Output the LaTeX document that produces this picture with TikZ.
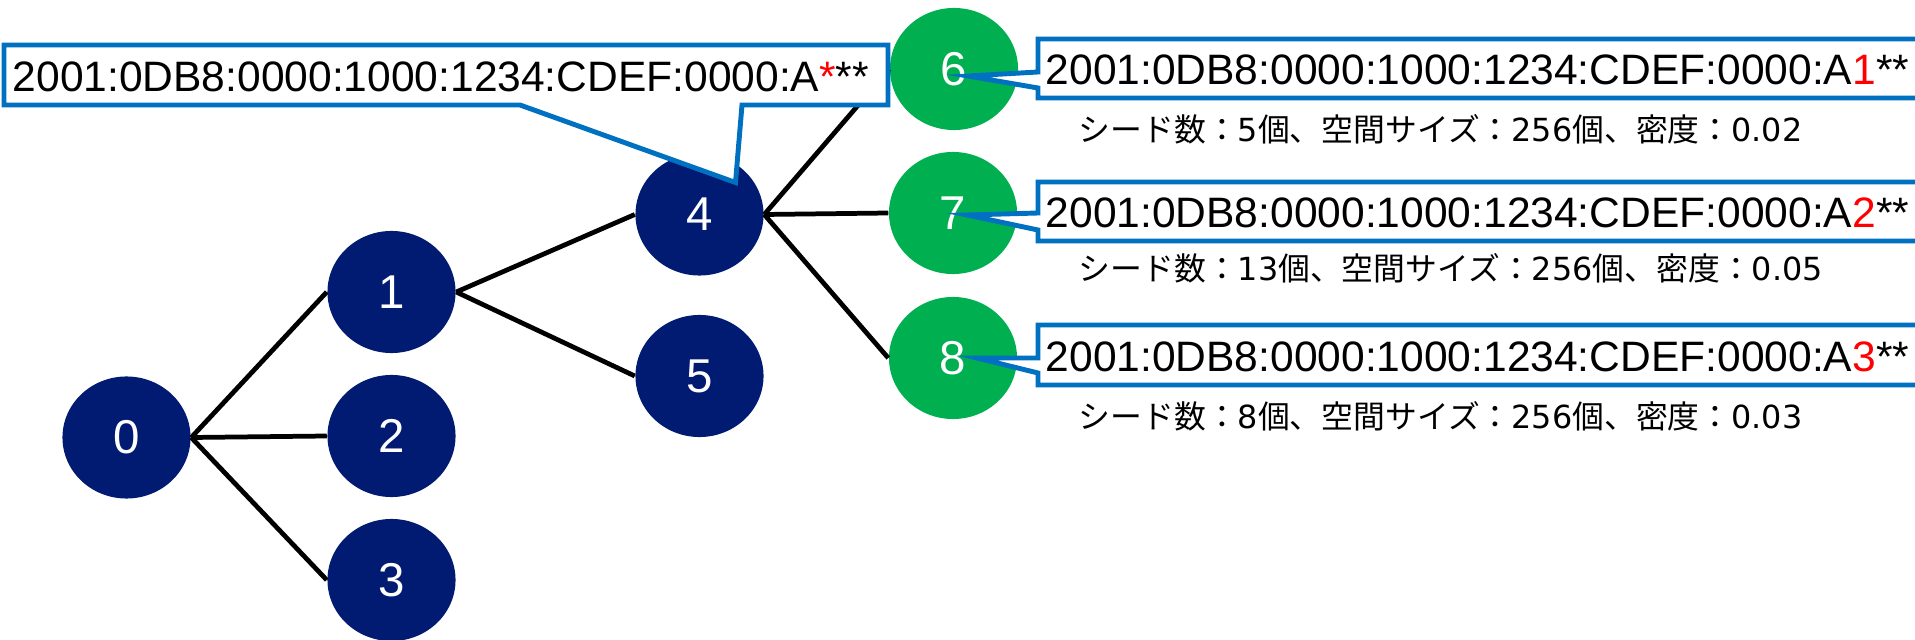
\documentclass[tikz,border=0pt]{standalone}
\usepackage{fontspec}
\setmainfont{Liberation Sans}
\newfontfamily\jpfont{Noto Sans CJK JP}
\newfontfamily\numfont{DejaVu Sans}
\usetikzlibrary{shapes.geometric,calc}

\definecolor{navy}{RGB}{2,27,114}
\definecolor{leaf}{RGB}{0,176,80}
\definecolor{frameblue}{RGB}{0,112,192}

% seeds, space size, density
\newcommand\seedline[3]{シード数：{\numfont #1}個、空間サイズ：{\numfont #2}個、密度：{\numfont #3}}

\tikzset{
  tree/.style={ellipse, fill=navy, text=white, inner sep=0pt,
    minimum width=1.28cm, minimum height=1.22cm,
    font=\fontsize{13.5}{16}\selectfont},
  leafnode/.style={tree, fill=leaf},
  link/.style={line width=1.35pt},
  callout/.style={draw=frameblue, line width=1.4pt, fill=white},
  addr/.style={inner sep=0pt, anchor=base west, font=\fontsize{12.1}{14}\selectfont},
  stats/.style={inner sep=0pt, anchor=west, font=\jpfont\fontsize{9.05}{11}\selectfont}
}

\begin{document}
\begin{tikzpicture}[x=0.01cm, y=-0.01cm]
  \useasboundingbox (0,0) rectangle (1915,640);
  \clip (0,0) rectangle (1915,640);

  % tree
  \node[tree] (n0) at (126.5,437.5) {0};
  \node[tree] (n1) at (391.5,292) {1};
  \node[tree] (n2) at (391.5,436) {2};
  \node[tree] (n3) at (391.5,580) {3};
  \node[tree] (n4) at (699.5,214.5) {4};
  \node[tree] (n5) at (699.5,376) {5};
  \node[leafnode] (n6) at (954,69) {6};
  \node[leafnode] (n7) at (953,213) {7};
  \node[leafnode] (n8) at (953,358) {8};

  \draw[link] (n0.east) -- (n1.west);
  \draw[link] (n0.east) -- (n2.west);
  \draw[link] (n0.east) -- (n3.west);
  \draw[link] (n1.east) -- (n4.west);
  \draw[link] (n1.east) -- (n5.west);
  \draw[link] (n4.east) -- (n6.west);
  \draw[link] (n4.east) -- (n7.west);
  \draw[link] (n4.east) -- (n8.west);

  % prefix of node 4
  \draw[callout] (4,45) -- (888,45) -- (888,105) -- (742,105)
    -- ($(n4)+(36,-32)$) -- (520,105) -- (4,105) -- cycle;
  \node[addr] (addr4) at (12,92)
    {2001:0DB8:0000:1000:1234:CDEF:0000:A\textcolor{red}{*}**};

  % prefixes of the leaves
  \draw[callout] (1038,72) -- ($(n6)+(14,7)$) -- (1038,88) -- (1038,98)
    -- (1940,98) -- (1940,39) -- (1038,39) -- cycle;
  \node[addr] (addr6) at (1045,85)
    {2001:0DB8:0000:1000:1234:CDEF:0000:A\textcolor{red}{1}**};
  \node[stats] (stats6) at (1078,129) {\seedline{5}{256}{0.02}};

  \draw[callout] (1038,213) -- ($(n7)+(14,2)$) -- (1038,230) -- (1038,241)
    -- (1940,241) -- (1940,182) -- (1038,182) -- cycle;
  \node[addr] (addr7) at (1045,228)
    {2001:0DB8:0000:1000:1234:CDEF:0000:A\textcolor{red}{2}**};
  \node[stats] (stats7) at (1078,268) {\seedline{13}{256}{0.05}};

  \draw[callout] (1038,358) -- ($(n8)+(24,0)$) -- (1038,373) -- (1038,385)
    -- (1940,385) -- (1940,325) -- (1038,325) -- cycle;
  \node[addr] (addr8) at (1045,372)
    {2001:0DB8:0000:1000:1234:CDEF:0000:A\textcolor{red}{3}**};
  \node[stats] (stats8) at (1078,416) {\seedline{8}{256}{0.03}};
\end{tikzpicture}
\end{document}
